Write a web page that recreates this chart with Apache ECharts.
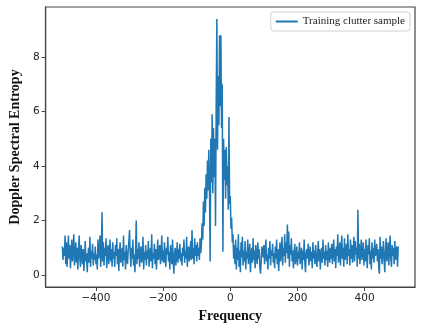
<!DOCTYPE html>
<html>
<head>
<meta charset="utf-8">
<script src="https://cdn.jsdelivr.net/npm/echarts@6/dist/echarts.min.js"></script>
<style>
  html, body { margin: 0; padding: 0; background: #fff; }
</style>
</head>
<body>
<div id="chart" style="width: 423px; height: 330px"></div>
<script>
// frequency grid: -500 .. 500, step 2
const freqStart = -500;
const freqStep = 2;

// Doppler spectral entropy, one row per 50 Hz
const entropy = [
  // -500 .. -452
  1.05, 0.55, 1.0, 0.7, 1.45, 0.4, 1.2, 0.3, 0.9, 1.45, 0.6, 1.1, 0.25, 0.8, 1.3, 0.5, 0.95, 1.5, 0.35, 0.7, 1.2, 0.45, 1.0, 0.2, 0.85,
  // -450 .. -402
  1.45, 0.6, 0.3, 1.1, 0.75, 0.4, 0.95, 0.15, 0.6, 1.25, 0.5, 0.8, 0.1, 0.7, 1.0, 0.45, 1.4, 0.3, 0.9, 0.6, 1.15, 0.35, 0.8, 0.55, 1.05,
  // -400 .. -352
  0.4, 0.75, 0.2, 1.3, 0.6, 0.9, 1.45, 0.3, 0.8, 2.3, 0.5, 1.2, 0.35, 1.0, 0.7, 1.35, 0.25, 0.9, 1.1, 0.4, 0.75, 1.3, 0.5, 0.95, 0.3,
  // -350 .. -302
  1.2, 0.6, 0.85, 0.3, 1.1, 0.7, 1.35, 0.4, 0.95, 0.15, 0.8, 1.2, 0.45, 0.7, 1.0, 0.3, 1.45, 0.55, 0.85, 0.2, 1.1, 0.65, 0.4, 0.9, 1.25,
  // -300 .. -252
  1.65, 0.8, 0.3, 1.0, 0.6, 1.3, 0.35, 0.75, 0.1, 0.9, 2.0, 0.4, 0.95, 0.6, 1.2, 0.3, 0.8, 1.05, 0.45, 0.7, 1.4, 0.2, 0.85, 0.55, 1.1,
  // -250 .. -202
  0.35, 0.9, 0.6, 1.25, 0.3, 0.7, 1.0, 0.5, 1.5, 0.25, 0.8, 0.6, 1.15, 0.4, 0.95, 0.2, 0.7, 1.3, 0.55, 0.85, 1.1, 0.4, 0.75, 1.45, 0.5,
  // -200 .. -152
  0.9, 0.45, 1.2, 0.6, 0.3, 1.0, 0.75, 1.4, 0.5, 0.85, 0.2, 1.1, 0.65, 0.4, 1.3, 0.55, 0.05, 0.8, 1.0, 0.35, 0.7, 1.2, 0.45, 0.95, 0.6,
  // -150 .. -102
  1.15, 0.5, 0.8, 0.35, 1.0, 0.7, 1.3, 0.45, 0.9, 0.6, 1.4, 0.3, 0.85, 1.05, 0.5, 0.75, 1.25, 0.55, 1.65, 0.6, 1.0, 0.4, 1.35, 0.7, 1.1,
  // -100 .. -52
  0.5, 1.2, 0.7, 1.0, 0.55, 1.35, 0.8, 1.1, 1.9, 1.3, 2.7, 1.8, 3.2, 2.3, 3.7, 2.8, 4.2, 3.1, 4.6, 3.3, 0.5, 5.0, 3.4, 5.9, 3.0,
  // -50 .. -2
  5.4, 3.6, 5.0, 1.8, 6.3, 9.4, 4.6, 7.3, 5.5, 8.8, 6.2, 8.8, 5.4, 7.0, 0.85, 5.0, 3.5, 4.6, 2.8, 4.7, 3.3, 4.0, 2.4, 5.8, 2.6,
  // 0 .. 48
  2.9, 1.7, 2.1, 1.2, 1.5, 0.6, 1.1, 0.4, 1.3, 0.2, 1.0, 0.55, 1.5, 0.3, 0.9, 0.1, 1.2, 0.65, 1.4, 0.35, 0.9, 0.5, 1.25, 0.2, 0.85,
  // 50 .. 98
  0.6, 1.3, 0.4, 0.8, 1.15, 0.1, 0.7, 1.0, 0.45, 1.35, 0.55, 0.9, 0.25, 1.1, 0.7, 0.4, 1.2, 0.6, 0.95, 0.3, 0.05, 0.5, 1.05, 0.8, 0.65,
  // 100 .. 148
  1.1, 0.4, 0.85, 1.3, 0.5, 0.75, 0.2, 1.0, 0.6, 1.25, 0.35, 0.9, 0.7, 1.15, 0.45, 0.8, 0.25, 1.05, 0.6, 1.3, 0.4, 0.95, 0.15, 0.7, 1.2,
  // 150 .. 198
  0.5, 0.9, 1.4, 0.35, 1.0, 0.7, 1.5, 0.45, 1.2, 0.8, 1.85, 0.6, 1.6, 0.3, 1.1, 0.75, 1.35, 0.5, 0.9, 0.25, 0.8, 1.15, 0.4, 0.7, 1.05,
  // 200 .. 248
  0.35, 0.85, 0.6, 1.2, 0.4, 0.75, 1.0, 0.2, 0.9, 0.55, 1.3, 0.45, 0.1, 0.8, 0.95, 0.6, 1.15, 0.35, 0.7, 1.05, 0.5, 0.85, 0.25, 1.2, 0.6,
  // 250 .. 298
  0.9, 0.4, 1.1, 0.65, 0.3, 0.8, 1.25, 0.5, 0.95, 0.2, 0.75, 1.0, 0.45, 1.3, 0.6, 0.85, 0.35, 1.1, 0.55, 0.9, 0.3, 1.2, 0.7, 0.45, 1.0,
  // 300 .. 348
  0.6, 1.15, 0.4, 0.85, 1.3, 0.5, 0.95, 0.25, 1.05, 0.7, 1.5, 0.45, 0.8, 1.2, 0.35, 0.9, 1.45, 0.6, 1.0, 0.3, 1.35, 0.55, 0.85, 1.15, 0.4,
  // 350 .. 398
  1.5, 0.7, 0.95, 0.35, 1.3, 0.6, 1.1, 0.45, 0.85, 1.4, 0.5, 1.25, 0.75, 1.0, 0.3, 2.4, 0.6, 1.15, 0.4, 0.9, 1.3, 0.55, 0.8, 1.2, 0.35,
  // 400 .. 448
  0.95, 0.5, 1.3, 0.65, 0.25, 1.1, 0.75, 1.35, 0.4, 0.9, 0.2, 1.2, 0.6, 1.0, 0.45, 1.3, 0.7, 0.85, 1.15, 0.5, 0.95, 0.3, 0.05, 1.4, 0.6,
  // 450 .. 500
  1.05, 0.4, 0.8, 1.25, 0.55, 0.1, 0.9, 1.35, 0.5, 0.75, 1.2, 0.35, 0.95, 1.45, 0.6, 0.3, 1.1, 0.7, 1.0, 0.4, 1.25, 0.55, 0.85, 1.05, 0.3, 1.05
];

const xTicks = [-400, -200, 0, 200, 400];
const yTicks = [0, 2, 4, 6, 8];
const seriesName = "Training clutter sample";

const points = entropy.map((v, i) => [freqStart + i * freqStep, v]);

const minusFmt = (v) => (v < 0 ? "\u2212" + Math.abs(v) : String(v));

const option = {
  animation: false,
  backgroundColor: "#fff",
  grid: {
    left: 39,
    right: 8,
    top: 7,
    bottom: 43,
    show: true,
    borderColor: "#444",
    borderWidth: 1.2,
  },
  legend: {
    right: 13,
    top: 12,
    padding: [4, 5, 4, 5],
    borderColor: "#d0d0d0",
    borderWidth: 1,
    borderRadius: 3,
    itemWidth: 22,
    itemHeight: 2,
    itemGap: 8,
    icon: "rect",
    textStyle: {
      fontFamily: "Liberation Serif",
      fontSize: 11,
      color: "#222",
    },
    data: [seriesName],
  },
  xAxis: {
    type: "value",
    min: -550,
    max: 550,
    name: "Frequency",
    nameLocation: "middle",
    nameGap: 21,
    nameTextStyle: {
      fontFamily: "Liberation Serif",
      fontWeight: "bold",
      fontSize: 14,
      color: "#111",
    },
    splitLine: { show: false },
    axisLine: { show: true, onZero: false, lineStyle: { color: "#444", width: 1.2 } },
    axisTick: {
      show: true,
      length: 4,
      customValues: xTicks,
      lineStyle: { color: "#444" },
    },
    axisLabel: {
      customValues: xTicks,
      formatter: minusFmt,
      margin: 6,
      fontFamily: "DejaVu Sans",
      fontSize: 10.5,
      color: "#222",
    },
  },
  yAxis: {
    type: "value",
    min: -0.44,
    max: 9.84,
    name: "Doppler Spectral Entropy",
    nameLocation: "middle",
    nameGap: 22,
    nameTextStyle: {
      fontFamily: "Liberation Serif",
      fontWeight: "bold",
      fontSize: 14,
      color: "#111",
    },
    splitLine: { show: false },
    axisLine: { show: true, onZero: false, lineStyle: { color: "#444", width: 1.2 } },
    axisTick: {
      show: true,
      length: 4,
      customValues: yTicks,
      lineStyle: { color: "#444" },
    },
    axisLabel: {
      customValues: yTicks,
      formatter: minusFmt,
      margin: 6,
      fontFamily: "DejaVu Sans",
      fontSize: 10.5,
      color: "#222",
    },
  },
  series: [
    {
      name: seriesName,
      type: "line",
      data: points,
      symbol: "none",
      color: "#1f77b4",
      lineStyle: { width: 1.5, color: "#1f77b4" },
    },
  ],
};

const chart = echarts.init(document.getElementById("chart"));
chart.setOption(option);
</script>
</body>
</html>
